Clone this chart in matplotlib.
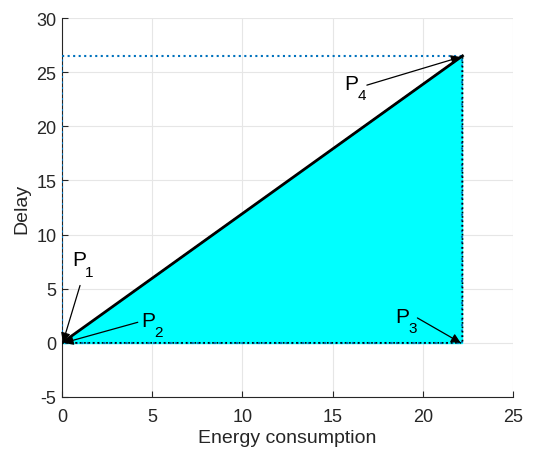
import numpy as np
import matplotlib; matplotlib.use("Agg")
import matplotlib.pyplot as plt

plt.rcParams['font.family'] = ['Liberation Sans', 'DejaVu Sans']
plt.rcParams['axes.unicode_minus'] = False

# corner points of the region (energy, delay)
energy = [0.0, 22.2, 22.2]
delay = [0.0, 0.0, 26.5]
e_max, d_max = 22.2, 26.5

# labels: name, subscript, arrow tail, arrow head, text baseline position
names = ["P", "P", "P", "P"]
subs = ["1", "2", "3", "4"]
tails = [(1.0, 5.3), (4.2, 1.9), (19.7, 2.3), (16.9, 23.8)]
heads = [(0.05, 0.05), (0.1, 0.0), (22.1, 0.0), (22.1, 26.4)]
txt_pos = [(0.55, 7.15), (4.38, 1.56), (18.46, 1.93), (15.63, 23.44)]

xticks = [0, 5, 10, 15, 20, 25]
yticks = [-5, 0, 5, 10, 15, 20, 25, 30]

fig = plt.figure(figsize=(5.42, 4.56), dpi=100)
ax = fig.add_axes([0.1144, 0.1272, 0.8321, 0.8311])

ax.fill(energy, delay, color="cyan", zorder=2)
blue = (0, 0.447, 0.741)
ax.plot([0, 0, e_max, e_max, 0], [0, d_max, d_max, 0, 0], ":", color=blue, lw=1.5, zorder=3)
ax.plot([0, e_max, e_max, 0], [0, 0, d_max, 0], ":", color="k", lw=1.2, zorder=3)
ax.plot([0, e_max], [0, d_max], "-", color="k", lw=2, zorder=4)

for n, s, t, h, p in zip(names, subs, tails, heads, txt_pos):
    ax.annotate("", xy=h, xytext=t,
                arrowprops=dict(arrowstyle="-|>", color="k", lw=0.9, mutation_scale=14,
                                shrinkA=0, shrinkB=0), zorder=5)
    ax.text(p[0], p[1], n, fontsize=15, color="k", zorder=6)
    ax.annotate(s, xy=p, xytext=(9.5, -7.5), textcoords="offset points",
                fontsize=11, color="k", zorder=6)

ax.set_xlim(0, 25); ax.set_ylim(-5, 30)
ax.set_xticks(xticks); ax.set_yticks(yticks)
ax.grid(True, color=(0.9, 0.9, 0.9), lw=0.8, zorder=0)
ax.set_axisbelow(True)
for s in ["top", "right"]:
    ax.spines[s].set_visible(False)
for s in ["left", "bottom"]:
    ax.spines[s].set_color((0.15, 0.15, 0.15))
ax.tick_params(direction="in", length=4, colors=(0.15, 0.15, 0.15), labelsize=13)
ax.tick_params(axis="x", pad=8)
ax.tick_params(axis="y", pad=4)
ax.set_xlabel("Energy consumption", fontsize=14, color=(0.15, 0.15, 0.15), labelpad=3)
ax.set_ylabel("Delay", fontsize=14, color=(0.15, 0.15, 0.15), labelpad=4)

fig.savefig("out.png", dpi=100)
